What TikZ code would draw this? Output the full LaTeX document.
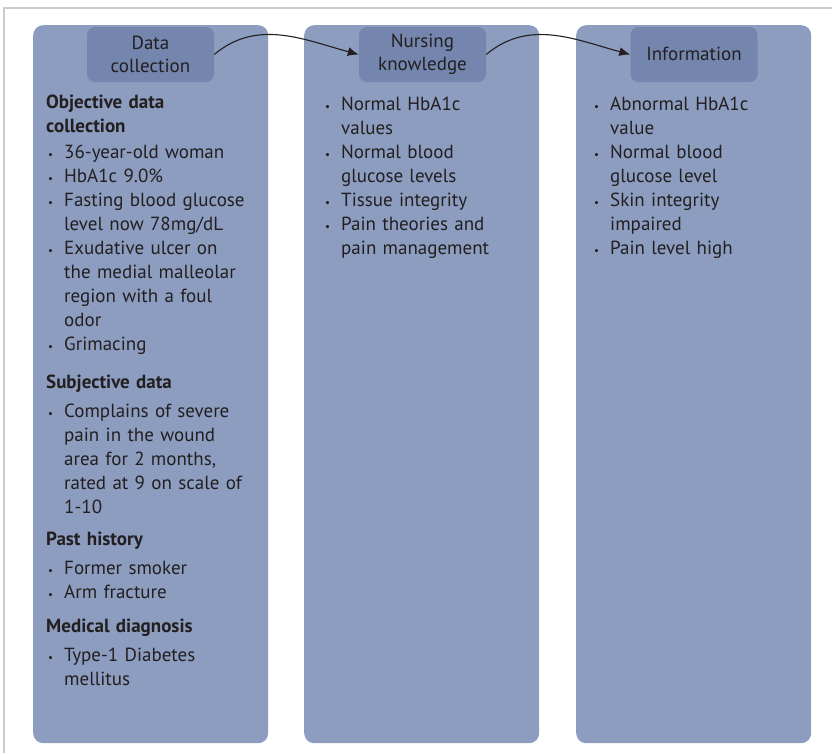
\documentclass[tikz,border=0pt]{standalone}
\usepackage{fontspec}
\setmainfont{PT Sans}
\usepackage{enumitem}
\usetikzlibrary{arrows.meta}

\definecolor{panelblue}{RGB}{140,157,192}
\definecolor{headblue}{RGB}{116,134,174}
\definecolor{inkgray}{RGB}{35,31,32}
\definecolor{framegray}{RGB}{204,204,204}

\setlist[itemize]{leftmargin=18pt, labelindent=2pt, labelwidth=8pt, labelsep=8pt,
  align=left, nosep, label={\fontsize{11}{11}\selectfont\textbullet}}
\newcommand{\gaphead}[1]{\par\vspace{#1}}
\newcommand{\gapitems}{\par\vspace{5pt}}

\begin{document}
\begin{tikzpicture}[x=1pt, y=-1pt,
    % column boxes and their title boxes
    panel/.style={fill=panelblue, rounded corners=10pt, minimum width=235pt,
      minimum height=718pt, anchor=north west, inner sep=0pt},
    head/.style={fill=headblue, rounded corners=8pt, minimum width=127pt,
      minimum height=55pt, align=center, inner sep=0pt, text=inkgray,
      font=\fontsize{19}{23}\selectfont},
    % list text
    body/.style={anchor=base west, inner sep=0pt, align=left, text=inkgray,
      font=\fontsize{19}{24}\selectfont},
    link/.style={-{Latex[length=11pt,width=9pt]}, line width=1.1pt, draw=inkgray},
]
\useasboundingbox (0,0) rectangle (832,753);

% thin frame on top and left
\draw[framegray, line width=1.4pt] (4,753) -- (4,8) -- (832,8);

% three columns
\node[panel] (colA) at (33,25) {};
\node[panel] (colB) at (304,25) {};
\node[panel] (colC) at (576,25) {};

% title boxes
\node[head] (headA) at (150.5,54.5) {Data\\collection};
\node[head] (headB) at (422.5,54.5) {Nursing\\knowledge};
\node[head] (headC) at (694,54.5) {\raisebox{2pt}{Information}};

% curved links between titles
\draw[link] (headA.east) to[out=40, in=165] (headB.west);
\draw[link] (headB.east) to[out=40, in=165] (headC.west);

% column contents
\node[body, text width=220pt] (listA) at (46,108) {%
  {\bfseries Objective data\\collection\par}
  \vspace{2pt}
  \begin{itemize}
    \item 36-year-old woman
    \item HbA1c 9.0\%
    \item Fasting blood glucose\\level now 78mg/dL
    \item Exudative ulcer on\\the medial malleolar\\region with a foul\\odor
    \item Grimacing
  \end{itemize}
  \gaphead{14pt}
  {\bfseries Subjective data\par}
  \gapitems
  \begin{itemize}
    \item Complains of severe\\pain in the wound\\area for 2 months,\\rated at 9 on scale of\\1-10
  \end{itemize}
  \gaphead{8pt}
  {\bfseries Past history\par}
  \gapitems
  \begin{itemize}
    \item Former smoker
    \item Arm fracture
  \end{itemize}
  \gaphead{10pt}
  {\bfseries Medical diagnosis\par}
  \gapitems
  \begin{itemize}
    \item Type-1 Diabetes\\mellitus
  \end{itemize}};

\node[body, text width=210pt] (listB) at (323,86) {%
  \begin{itemize}
    \item Normal HbA1c\\values
    \item Normal blood\\glucose levels
    \item Tissue integrity
    \item Pain theories and\\pain management
  \end{itemize}};

\node[body, text width=210pt] (listC) at (592,86) {%
  \begin{itemize}
    \item Abnormal HbA1c\\value
    \item Normal blood\\glucose level
    \item Skin integrity\\impaired
    \item Pain level high
  \end{itemize}};

\end{tikzpicture}
\end{document}
